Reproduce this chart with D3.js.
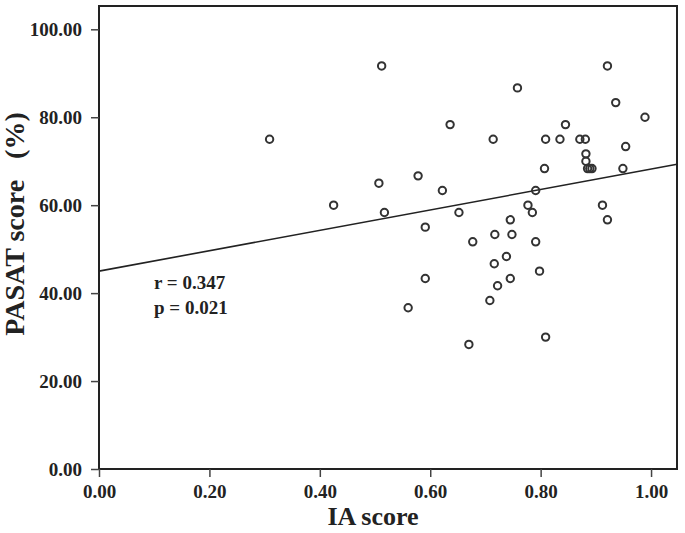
<!DOCTYPE html>
<html>
<head>
<meta charset="utf-8">
<script src="https://cdn.jsdelivr.net/npm/d3@7/dist/d3.min.js"></script>
<style>
  html, body { margin: 0; padding: 0; background: #fff; }
  svg { display: block; }
  text { font-family: "Liberation Serif", "Times New Roman", serif; font-weight: bold; fill: #222; }
</style>
</head>
<body>
<svg id="chart" width="685" height="533"></svg>
<script>
// IA score (x) values
const iaScore = [
  0.309, 0.425, 0.512, 0.507, 0.517, 0.560, 0.578, 0.591, 0.591, 0.622,
  0.636, 0.652, 0.670, 0.677, 0.714, 0.717, 0.716, 0.708, 0.722, 0.738,
  0.745, 0.748, 0.745, 0.758, 0.777, 0.785, 0.791, 0.791, 0.798, 0.809,
  0.807, 0.809, 0.835, 0.845, 0.871, 0.881, 0.882, 0.882, 0.885, 0.889,
  0.893, 0.921, 0.912, 0.921, 0.936, 0.949, 0.954, 0.989
];
// PASAT score (%) values
const pasatScore = [
  75.00, 60.00, 91.67, 65.00, 58.33, 36.67, 66.67, 55.00, 43.33, 63.33,
  78.33, 58.33, 28.33, 51.67, 75.00, 53.33, 46.67, 38.33, 41.67, 48.33,
  56.67, 53.33, 43.33, 86.67, 60.00, 58.33, 63.33, 51.67, 45.00, 30.00,
  68.33, 75.00, 75.00, 78.33, 75.00, 75.00, 71.67, 70.00, 68.33, 68.33,
  68.33, 91.67, 60.00, 56.67, 83.33, 68.33, 73.33, 80.00
];
// Fitted line: [intercept, slope]
const fitLine = [45.0, 23.2];
const xTicks = [0, 0.2, 0.4, 0.6, 0.8, 1.0];
const yTicks = [0, 20, 40, 60, 80, 100];
const statLabels = ["r = 0.347", "p = 0.021"];

const svg = d3.select("#chart");
const mLeft = 99, mRight = 677, mTop = 6, mBottom = 469;

const x = d3.scaleLinear().domain([0, 1.047]).range([mLeft, mRight]);
const y = d3.scaleLinear().domain([0, 105.3]).range([mBottom, mTop]);

// Frame
svg.append("rect")
  .attr("x", mLeft).attr("y", mTop)
  .attr("width", mRight - mLeft).attr("height", mBottom - mTop)
  .attr("fill", "none").attr("stroke", "#222").attr("stroke-width", 2);

// Axes
const xAxis = svg.append("g").attr("transform", `translate(0,${mBottom})`)
  .call(d3.axisBottom(x).tickValues(xTicks).tickFormat(d3.format(".2f")).tickSize(8).tickSizeOuter(0));
const yAxis = svg.append("g").attr("transform", `translate(${mLeft},0)`)
  .call(d3.axisLeft(y).tickValues(yTicks).tickFormat(d3.format(".2f")).tickSize(8).tickSizeOuter(0));
[xAxis, yAxis].forEach(g => {
  g.select(".domain").remove();
  g.selectAll(".tick line").attr("stroke", "#444").attr("stroke-width", 1.5);
  g.selectAll(".tick text")
    .style("font-family", '"Liberation Serif", serif')
    .style("font-weight", "bold")
    .style("font-size", "19px")
    .attr("fill", "#222");
});
xAxis.selectAll(".tick text").attr("dy", null).attr("y", 29);
yAxis.selectAll(".tick text").attr("x", -17).attr("dy", "0.35em");

// Regression line
svg.append("line")
  .attr("x1", x(0)).attr("y1", y(fitLine[0]))
  .attr("x2", x(1.047)).attr("y2", y(fitLine[0] + fitLine[1] * 1.047))
  .attr("stroke", "#222").attr("stroke-width", 1.6);

// Points
svg.append("g").selectAll("circle")
  .data(iaScore.map((d, i) => [d, pasatScore[i]]))
  .join("circle")
  .attr("cx", d => x(d[0])).attr("cy", d => y(d[1]))
  .attr("r", 3.7)
  .attr("fill", "none").attr("stroke", "#333").attr("stroke-width", 2);

// Stats text
svg.append("g").selectAll("text")
  .data(statLabels)
  .join("text")
  .attr("x", 154).attr("y", (d, i) => 289 + i * 25)
  .style("font-size", "19px")
  .text(d => d);

// Axis titles
svg.append("text")
  .attr("x", (mLeft + mRight) / 2 - 15).attr("y", 525)
  .attr("text-anchor", "middle")
  .style("font-size", "26px")
  .text("IA score");

svg.append("text")
  .attr("transform", "translate(24,224) rotate(-90)")
  .attr("text-anchor", "middle")
  .style("font-size", "28px")
  .style("white-space", "pre")
  .text("PASAT score   (%)");
</script>
</body>
</html>
